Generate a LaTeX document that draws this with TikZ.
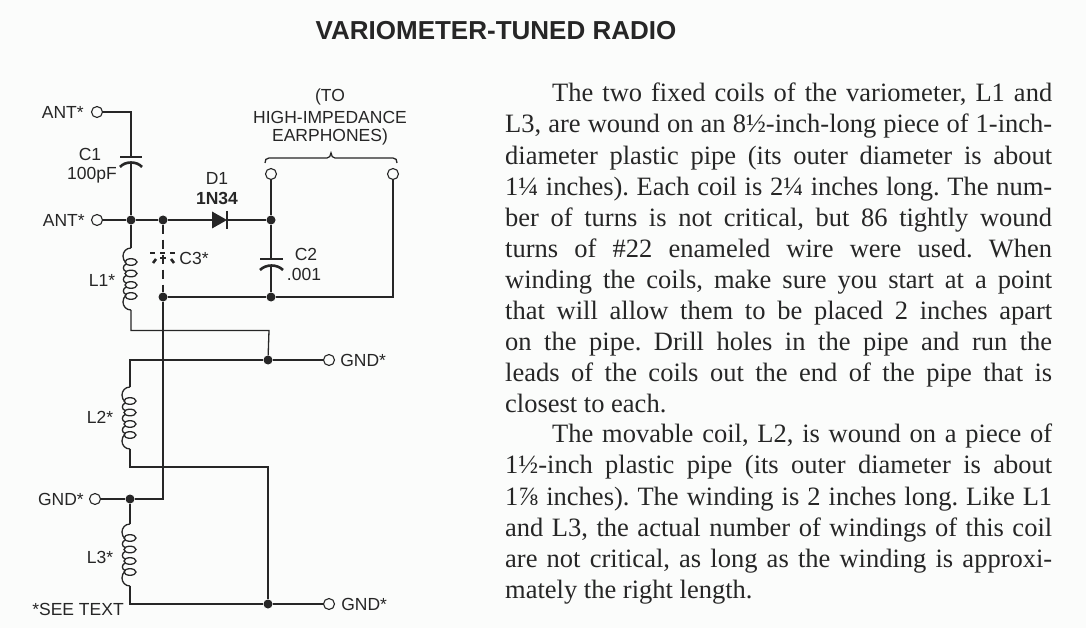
\documentclass[tikz,border=0pt]{standalone}
\usepackage{fontspec}
\setmainfont{Liberation Serif}
\newfontfamily\labelfont{Liberation Sans}
\usetikzlibrary{positioning}

\definecolor{paperbg}{HTML}{FBFCFB}
\definecolor{inkcol}{HTML}{262626}

\tikzset{
  wire/.style={color=inkcol, line width=1.3pt},
  dot/.style={circle, fill=inkcol, inner sep=0pt, minimum size=9pt},
  term/.style={circle, draw=inkcol, fill=paperbg, line width=1.1pt, inner sep=0pt, minimum size=11pt},
  lbl/.style={color=inkcol, inner sep=0pt, font=\labelfont\fontsize{17.5}{20}\selectfont},
  plate/.style={color=inkcol, line width=2.6pt},
  body/.style={color=inkcol, anchor=north west, inner sep=0pt, text width=547pt, align=justify,
    font=\frenchspacing\fontsize{26.5}{31.1}\selectfont},
  coilpic/.pic={
    \coordinate (-top) at (0,0);
    \coordinate (-bot) at (0,62);
    \draw[wire] (0,0) .. controls (-5,0) and (-8,4) .. (-8,8) .. controls (-8,11) and (-7,13) .. (-5,14.5);
    \draw[wire] (0,62) .. controls (-5,62) and (-8,58) .. (-8,54) .. controls (-8,51) and (-7,49) .. (-5,47.5);
    \foreach \ypos in {14,25.5,37,48} {
      \draw[wire] (0,\ypos) ellipse (6 and 3.3);
    }
    \foreach \ypos in {14,25.5,37} {
      \draw[wire] (-5,\ypos+2) .. controls (-8.5,\ypos+4) and (-8.5,\ypos+8) .. (-5,\ypos+9.5);
    }
  }
}

\begin{document}
\begin{tikzpicture}[x=1pt, y=-1pt]

  \useasboundingbox[fill=paperbg] (0,0) rectangle (1086,628);

  \node[color=inkcol, inner sep=0pt, font=\labelfont\bfseries\fontsize{26}{30}\selectfont] (title) at (496,31) {VARIOMETER-TUNED RADIO};

  \node[term] (ant1) at (97,112) {};
  \node[term] (ant2) at (97,220) {};
  \node[term] (ear1) at (271,174) {};
  \node[term] (ear2) at (393,174) {};
  \node[term] (gnd1) at (329,360) {};
  \node[term] (gnd2) at (95,499) {};
  \node[term] (gnd3) at (329,604) {};

  \node[dot] (j1) at (131,220) {};
  \node[dot] (j2) at (163,220) {};
  \node[dot] (j3) at (271,220) {};
  \node[dot] (j4) at (163,297) {};
  \node[dot] (j5) at (271,297) {};
  \node[dot] (j6) at (268,360) {};
  \node[dot] (j7) at (130,499) {};
  \node[dot] (j8) at (268,604) {};

  \coordinate (c1a) at (131,157);
  \coordinate (c1b) at (131,162);
  \coordinate (c2a) at (271,259);
  \coordinate (c2b) at (271,265);
  \coordinate (d1a) at (212,220);
  \coordinate (d1k) at (227,220);

  \pic (l1) at (131,248) {coilpic};
  \pic (l2) at (130,387) {coilpic};
  \pic (l3) at (130,524) {coilpic};

  \draw[wire] (ant1) -| (c1a);
  \draw[wire] (c1b) -- (j1);
  \draw[wire] (ant2) -- (j1);
  \draw[wire] (j1) -- (j2);
  \draw[wire] (j2) -- (d1a);
  \draw[wire] (d1k) -- (j3);
  \draw[wire] (ear1) -- (j3);
  \draw[wire] (j3) -- (c2a);
  \draw[wire] (c2b) -- (j5);
  \draw[wire] (j4) -- (j5);
  \draw[wire] (j5) -| (ear2);
  \draw[wire, dash pattern=on 9pt off 6pt] (j2) -- (j4);
  \draw[wire] (j1) -- (l1-top);

  \draw[plate] (c1a) ++(-11,0) -- ++(22,0);
  \draw[plate] (c1b) ++(-11,5) .. controls (125,161) and (137,161) .. (142,167);
  \draw[plate] (c2a) ++(-11,0) -- ++(23,0);
  \draw[plate] (c2b) ++(-11,5) .. controls (266,264) and (277,264) .. (283,270);

  \fill[color=inkcol] (d1a) ++(0,-8.5) -- ++(15,8.5) -- ++(-15,8.5) -- cycle;
  \draw[color=inkcol, line width=1.6pt] (d1k) ++(0,-9) -- ++(0,18);

  \foreach \xpos in {150,160,170} {
    \draw[plate] (\xpos,253) -- ++(5,0);
  }
  \draw[plate] (153,263) -- (156,259);
  \draw[plate] (160,258) -- (166,258);
  \draw[plate] (171,259) -- (174,263);

  \draw[wire] (l1-bot) |- (269,330.5) -- (j6);
  \draw[wire] (l2-top) |- (j6);
  \draw[wire] (j6) -- (gnd1);
  \draw[wire] (j4) |- (j7);
  \draw[wire] (gnd2) -- (j7);
  \draw[wire] (j7) -- (l3-top);
  \draw[wire] (l2-bot) |- (268,467) -- (j8);
  \draw[wire] (l3-bot) |- (j8);
  \draw[wire] (j8) -- (gnd3);

  \draw[wire] (265,163) .. controls (265,160) and (266,158) .. (269,158) -- (327,158) .. controls (329,158) and (331,156) .. (331,153) .. controls (331,156) and (333,158) .. (335,158) -- (393,158) .. controls (396,158) and (397,160) .. (397,163);

  \node[lbl, left=7pt of ant1] (lant1) {ANT*};
  \node[lbl, left=6pt of ant2] (lant2) {ANT*};
  \node[lbl, right=5pt of gnd1] (lgnd1) {GND*};
  \node[lbl, left=5pt of gnd2] (lgnd2) {GND*};
  \node[lbl, right=6pt of gnd3] (lgnd3) {GND*};
  \node[lbl] (lc1) at (90,154) {C1};
  \node[lbl] (lc1v) at (92,175) {100pF};
  \node[lbl] (ld1) at (217,178) {D1};
  \node[lbl, font=\labelfont\bfseries\fontsize{17.5}{20}\selectfont] (ld1v) at (217,198) {1N34};
  \node[lbl] (lc3) at (194,258) {C3*};
  \node[lbl] (lc2) at (306,254) {C2};
  \node[lbl] (lc2v) at (304,274) {.001};
  \node[lbl] (ll1) at (102,280) {L1*};
  \node[lbl] (ll2) at (100,417) {L2*};
  \node[lbl] (ll3) at (100,557) {L3*};
  \node[lbl] (lto) at (330,97) {(TO};
  \node[lbl] (lhigh) at (330,117) {HIGH-IMPEDANCE};
  \node[lbl] (lear) at (330,137) {EARPHONES)};
  \node[lbl] (lsee) at (78,609) {*SEE TEXT};

  \node[body] (para1) at (505,83) {\hspace*{47pt}The two fixed coils of the variometer, L1 and\linebreak
    L3, are wound on an 8½-inch-long piece of 1-inch-\linebreak
    diameter plastic pipe (its outer diameter is about\linebreak
    1¼ inches). Each coil is 2¼ inches long. The num-\linebreak
    ber of turns is not critical, but 86 tightly wound\linebreak
    turns of \#22 enameled wire were used. When\linebreak
    winding the coils, make sure you start at a point\linebreak
    that will allow them to be placed 2 inches apart\linebreak
    on the pipe. Drill holes in the pipe and run the\linebreak
    leads of the coils out the end of the pipe that is\linebreak
    closest to each.};

  \node[body] (para2) at (505,424) {\hspace*{47pt}The movable coil, L2, is wound on a piece of\linebreak
    1½-inch plastic pipe (its outer diameter is about\linebreak
    1⅞ inches). The winding is 2 inches long. Like L1\linebreak
    and L3, the actual number of windings of this coil\linebreak
    are not critical, as long as the winding is approxi-\linebreak
    mately the right length.};

\end{tikzpicture}
\end{document}
